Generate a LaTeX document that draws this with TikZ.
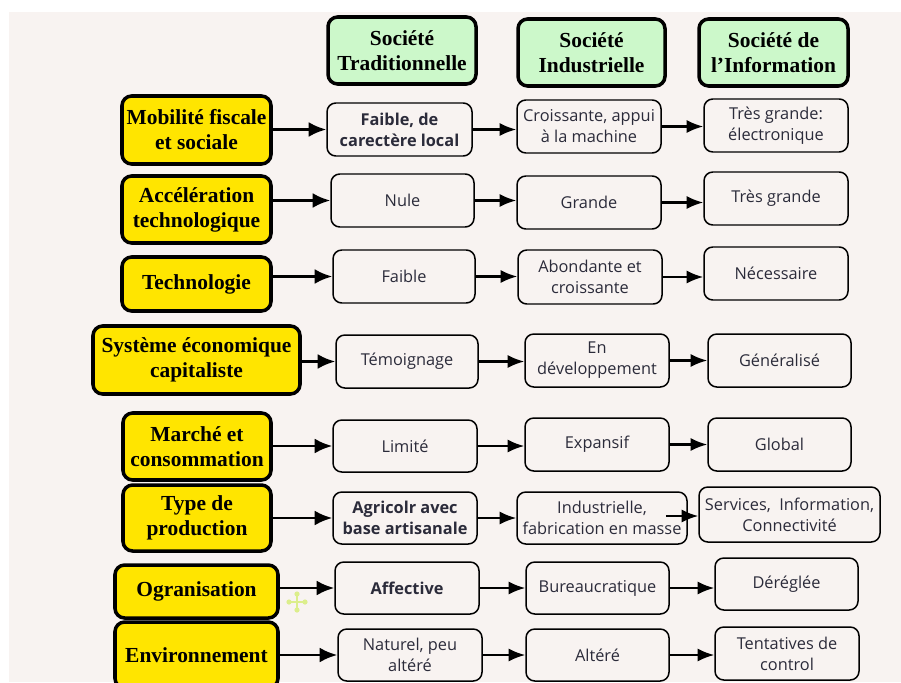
\documentclass[tikz,border=0pt]{standalone}
\usepackage{fontspec}
\setmainfont{Open Sans}
\newfontfamily\titrefont{Liberation Serif}
\usetikzlibrary{arrows.meta,positioning}

\definecolor{fondbeige}{HTML}{F8F3F1}
\definecolor{jaune}{HTML}{FFE500}
\definecolor{vertpale}{HTML}{CCF8CA}
\definecolor{encre}{HTML}{2B2B3A}
\definecolor{curseur}{HTML}{DCEE8C}

\tikzset{
  sz/.style 2 args={minimum width=#1*0.02cm, minimum height=#2*0.02cm},
  critere/.style={draw=black, line width=2pt, fill=jaune, rounded corners=5.5pt, inner sep=0pt, align=center,
    font=\titrefont\bfseries\fontsize{12.2}{14.2}\selectfont},
  entete/.style={critere, fill=vertpale},
  case/.style={draw=black, line width=0.85pt, fill=fondbeige, rounded corners=5pt, inner sep=0pt, align=center,
    text=encre, font=\fontsize{9.3}{11.9}\selectfont},
  casegras/.style={case, font=\bfseries\fontsize{9.3}{11.9}\selectfont},
  fleche/.style={-{Latex[length=10pt,width=8.5pt]}, line width=1.6pt},
  flechefine/.style={-{Latex[length=9.5pt,width=7.5pt]}, line width=1.25pt},
}

\begin{document}
\begin{tikzpicture}[x=0.02cm, y=-0.02cm]
    \useasboundingbox (0,0) rectangle (901,682);
    \clip (0,0) rectangle (901,682);
    \fill[white] (0,0) rectangle (901,682);
    \fill[fondbeige] (9,12) rectangle (901,682);

    % en-tetes
    \node[entete, sz={148}{67}] (hTrad) at (402,50.5) {Société\\Traditionnelle};
    \node[entete, sz={147}{67}] (hIndu) at (591.5,52.5) {Société\\Industrielle};
    \node[entete, sz={149}{67}] (hInfo) at (773.5,52.5) {Société de\\l’Information};

    % criteres
    \node[critere, sz={149}{68}] (crit1) at (196.5,130) {Mobilité fiscale\\et sociale};
    \node[critere, sz={149}{67}] (crit2) at (196.5,209.5) {Accélération\\technologique};
    \node[critere, sz={149}{54}] (crit3) at (196.5,284) {Technologie};
    \node[critere, sz={207}{68}] (crit4) at (196.5,360) {Système économique\\capitaliste};
    \node[critere, sz={148}{67}] (crit5) at (197,446.5) {Marché et\\consommation};
    \node[critere, sz={148}{66}] (crit6) at (197,518) {Type de\\production};
    \node[critere, sz={163}{53}] (crit7) at (196.5,591.5) {Ogranisation};
    \node[critere, sz={163}{66}] (crit8) at (196.5,655) {Environnement};

    % societe traditionnelle
    \node[casegras, sz={145}{53}] (trad1) at (399.5,129.5) {Faible, de\\carectère local};
    \node[case, sz={143}{53}] (trad2) at (402.5,200.5) {Nule};
    \node[case, sz={142}{53}] (trad3) at (404,276.5) {Faible};
    \node[case, sz={142}{53}] (trad4) at (407,361.5) {Témoignage};
    \node[case, sz={144}{52}] (trad5) at (405,446) {Limité};
    \node[casegras, sz={144}{52}] (trad6) at (405,518) {Agricolr avec\\base artisanale};
    \node[casegras, sz={144}{52}] (trad7) at (407,588) {Affective};
    \node[case, sz={144}{52}] (trad8) at (410,655) {Naturel, peu\\altéré};

    % societe industrielle
    \node[case, sz={144}{53}] (indu1) at (589,126.5) {Croissante, appui\\à la machine};
    \node[case, sz={144}{53}] (indu2) at (589,202.5) {Grande};
    \node[case, sz={144}{54}] (indu3) at (590,277) {Abondante et\\croissante};
    \node[case, sz={144}{53}] (indu4) at (597,360.5) {En\\développement};
    \node[case, sz={144}{53}] (indu5) at (597,444.5) {Expansif};
    \node[case, sz={170}{52}] (indu6) at (602,518) {Industrielle,\\fabrication en masse};
    \node[case, sz={143}{52}] (indu7) at (597.5,588) {Bureaucratique};
    \node[case, sz={143}{52}] (indu8) at (597.5,655) {Altéré};

    % societe de l'information
    \node[case, sz={144}{53}] (info1) at (776,125.5) {Très grande:\\électronique};
    \node[case, sz={144}{53}] (info2) at (776,198.5) {Très grande};
    \node[case, sz={144}{53}] (info3) at (776,273.5) {Nécessaire};
    \node[case, sz={143}{53}] (info4) at (779.5,360.5) {Généralisé};
    \node[case, sz={143}{53}] (info5) at (779.5,444.5) {Global};
    \node[case, sz={181}{55}] (info6) at (789.5,514.5) {Services,\ \ Information,\\Connectivité};
    \node[case, sz={143}{52}] (info7) at (786.5,584) {Déréglée};
    \node[case, sz={144}{53}] (info8) at (787,653.5) {Tentatives de\\control};

    % fleches
    \foreach \r in {1,...,8} {
        \draw[fleche] (trad\r.west -| crit\r.east) -- (trad\r.west);
        \draw[flechefine] (trad\r.east) -- (trad\r.east -| indu\r.west);
    }
    \foreach \r in {1,2,3,4,5,7,8}
        \draw[flechefine] (indu\r.east) -- (indu\r.east -| info\r.west);
    \coordinate (dep6) at ([xshift=-22*0.02cm, yshift=2*0.02cm]indu6.east);
    \draw[flechefine] (dep6) -- (dep6 -| info6.west);

    % curseur
    \draw[curseur, line width=1pt] (289,602) -- (305,602) (297,594) -- (297,610);
    \foreach \dx/\dy in {8/0,-8/0,0/8,0/-8}
        \fill[curseur] (297+\dx,602+\dy) circle (2.6);
\end{tikzpicture}
\end{document}
